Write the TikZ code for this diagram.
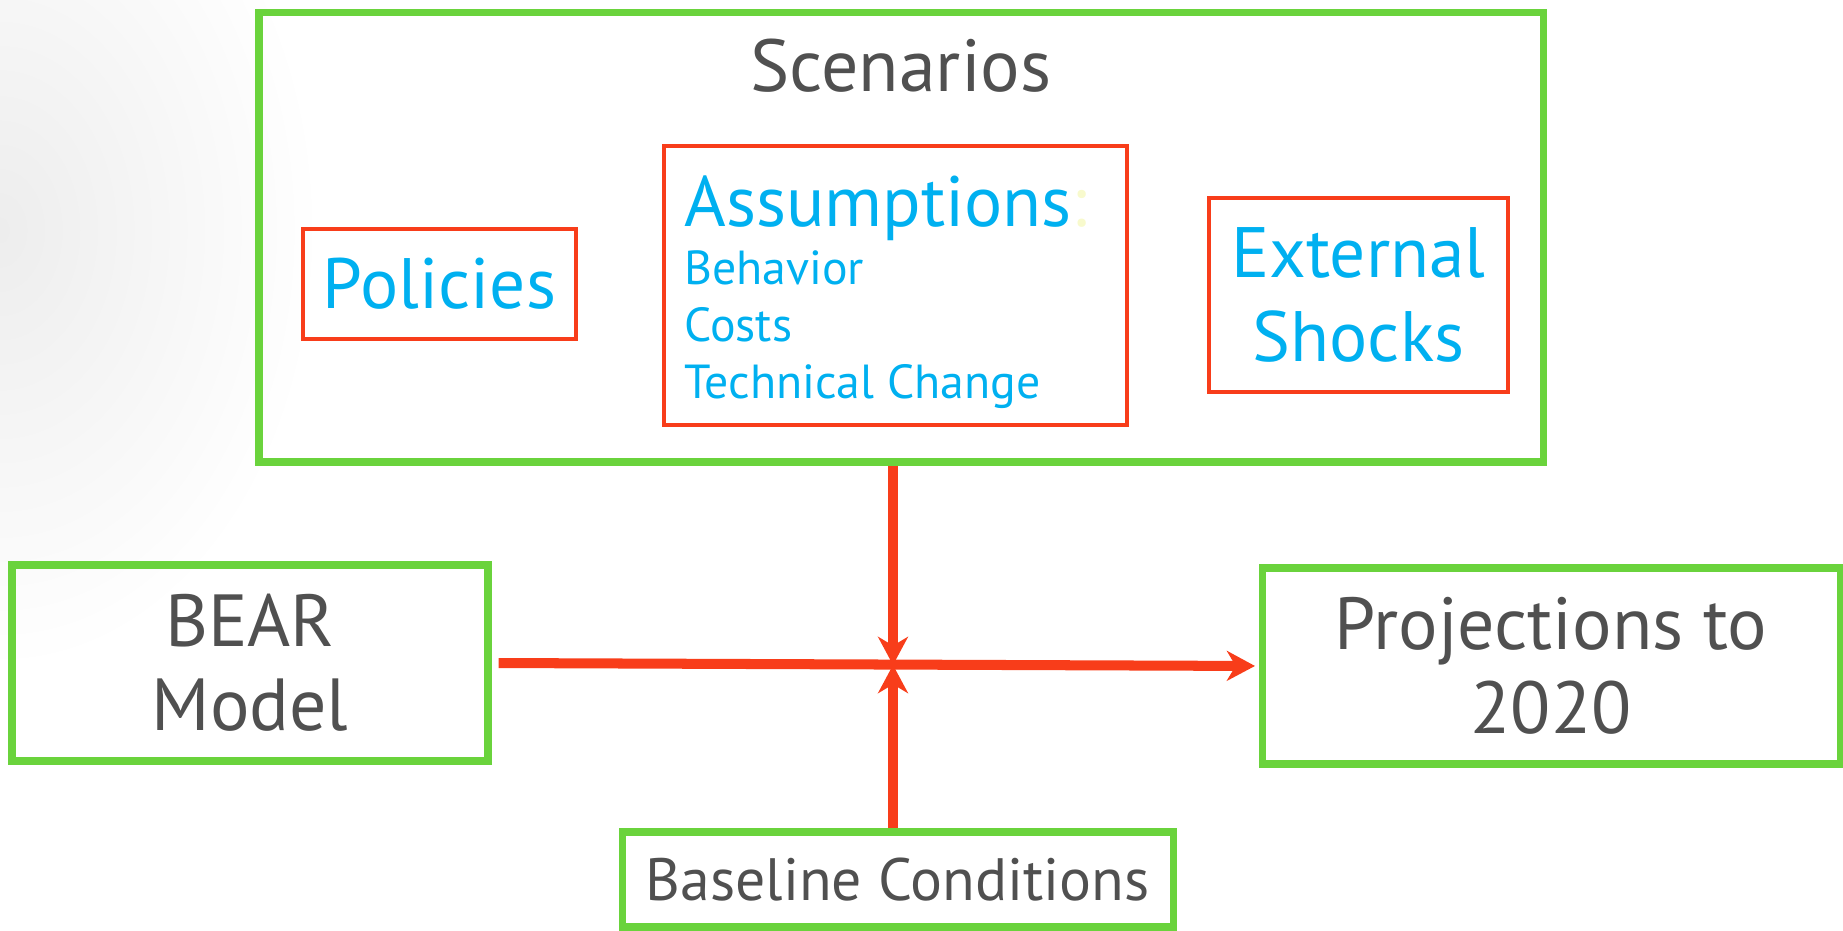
\documentclass[tikz,border=0pt]{standalone}
\usepackage{fontspec}
\setmainfont{PT Sans}
\usetikzlibrary{arrows.meta}
\usetikzlibrary{fadings}
\definecolor{boxgreen}{RGB}{106,211,60}
\definecolor{boxred}{RGB}{248,61,26}
\definecolor{textblue}{RGB}{0,176,240}
\definecolor{textgrey}{RGB}{80,80,80}
\definecolor{paleyellow}{RGB}{248,250,205}
\tikzfading[name=cornerfade, inner color=transparent!0, outer color=transparent!100]
\tikzset{
	greenbox/.style={draw=boxgreen, line width=2pt, inner sep=0pt, text=textgrey, align=center, font=\fontsize{21}{23.9}\selectfont},
	redbox/.style={draw=boxred, line width=1.3pt, inner sep=0pt, text=textblue, align=center, font=\fontsize{20.3}{23.9}\selectfont},
	link/.style={boxred, line width=2.85pt, -{Stealth[length=8pt, width=8.5pt, inset=2.5pt]}}
}

\begin{document}
\begin{tikzpicture}
	% page: 1843 x 930 px, 1 px = 0.1 mm
	\useasboundingbox (0,0) rectangle (18.43,9.30);
	\fill[black!7, path fading=cornerfade] (-3.2,2.6) rectangle (3.2,11.4);
	
	% scenarios block
	\node[greenbox, minimum width=12.84cm, minimum height=4.49cm] (scen) at (9.01,6.925) {};
	\node[text=textgrey, inner sep=0pt, anchor=base, font=\fontsize{21}{23.9}\selectfont] (scentitle) at ([yshift=-0.82cm]scen.north) {Scenarios};
	\node[redbox, minimum width=2.73cm, minimum height=1.10cm] (pol) at (4.395,6.46) {Policies};
	\node[redbox, minimum width=4.63cm, minimum height=2.79cm] (assum) at (8.955,6.445) {};
	\node[text=textblue, inner sep=0pt, align=left, anchor=north west, font=\fontsize{13.6}{16.1}\selectfont] (assumlist) at ([xshift=0.22cm, yshift=-0.31cm]assum.north west)
		{{\fontsize{20.3}{16.1}\selectfont Assumptions\textcolor{paleyellow}{:}}\\[0.6pt]Behavior\\Costs\\Technical Change};
	\node[redbox, minimum width=2.99cm, minimum height=1.94cm] (ext) at (13.585,6.35) {External\\Shocks};
	
	% model, output, baseline
	\node[greenbox, minimum width=4.76cm, minimum height=1.96cm] (bear) at (2.50,2.67) {BEAR\\Model};
	\node[greenbox, minimum width=5.78cm, minimum height=1.96cm] (proj) at (15.51,2.64) {Projections to\\2020};
	\node[greenbox, minimum width=5.51cm, minimum height=0.95cm, font=\fontsize{17}{20}\selectfont] (base) at (8.975,0.505) {Baseline Conditions};
	\coordinate (hub) at (8.93,2.65);
	
	% arrows
	\draw[link] (scen.south -| hub) -- (hub);
	\draw[link] (base.north -| hub) -- (hub);
	\draw[link, shorten <=2pt, shorten >=1pt] (bear.east) -- (proj.west);
\end{tikzpicture}
\end{document}
